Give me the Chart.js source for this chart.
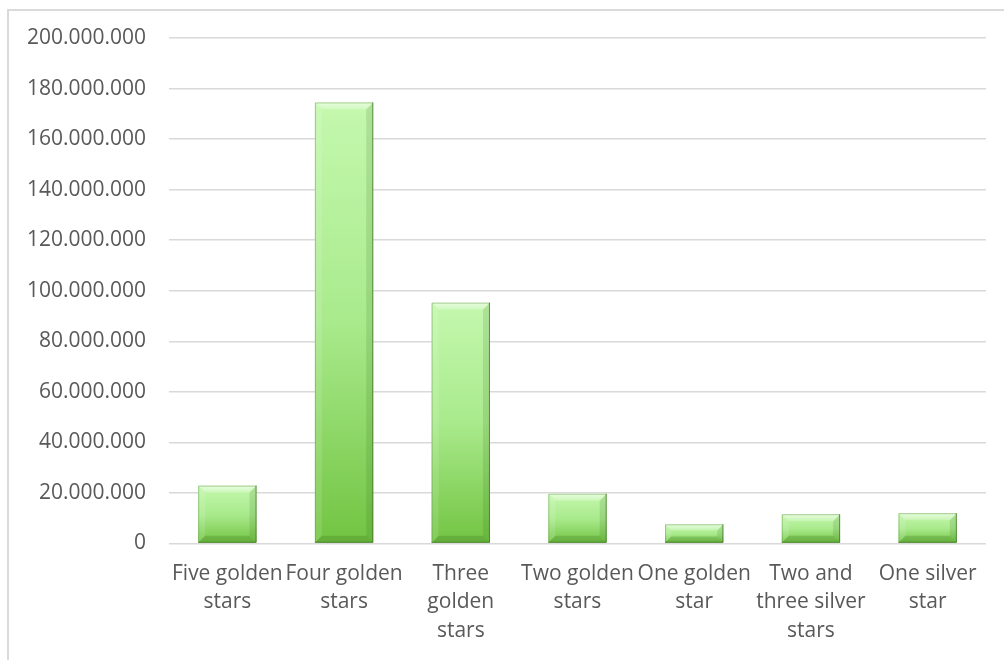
<!DOCTYPE html>
<html>
<head>
<meta charset="utf-8">
<script src="https://cdn.jsdelivr.net/npm/chart.js@4.4.1/dist/chart.umd.min.js"></script>
<style>
    html, body { margin: 0; padding: 0; background: #ffffff; overflow: hidden; }
    #wrap { position: relative; width: 1004px; height: 660px; }
    #frame {
        position: absolute; left: 7px; top: 9px; width: 1020px; height: 680px;
        border: 2px solid #dadada; box-sizing: border-box;
    }
    #chart { position: absolute; left: 0; top: 0; }
</style>
</head>
<body>
<div id="wrap">
    <div id="frame"></div>
    <canvas id="chart" width="1004" height="660"></canvas>
</div>
<script>
// 星级分类
const categories = [
    ['Five golden', 'stars'],
    ['Four golden', 'stars'],
    ['Three', 'golden', 'stars'],
    ['Two golden', 'stars'],
    ['One golden', 'star'],
    ['Two and', 'three silver', 'stars'],
    ['One silver', 'star']
];
const values = [22900000, 174500000, 95300000, 19700000, 7600000, 11600000, 12000000];
const yTicks = [0, 20000000, 40000000, 60000000, 80000000, 100000000, 120000000, 140000000, 160000000, 180000000, 200000000];

// 千位用点分隔
function formatDots(v) {
    return String(v).replace(/\B(?=(\d{3})+(?!\d))/g, '.');
}

// 每根柱子自上而下的渐变
function barGradient(ctx) {
    const chart = ctx.chart;
    if (!chart.chartArea || ctx.parsed == null) return '#9fe07c';
    const y = chart.scales.y;
    const top = y.getPixelForValue(ctx.parsed.y);
    const base = y.getPixelForValue(0);
    const g = chart.ctx.createLinearGradient(0, top, 0, base);
    g.addColorStop(0, '#c4f8ae');
    g.addColorStop(0.5, '#a9ea8c');
    g.addColorStop(1, '#72c442');
    return g;
}

// 斜面效果，按柱子元素自身的位置绘制
const bevelPlugin = {
    id: 'bevel',
    afterDatasetsDraw(chart) {
        const ctx = chart.ctx;
        const meta = chart.getDatasetMeta(0);
        meta.data.forEach(bar => {
            const p = bar.getProps(['x', 'y', 'base', 'width'], true);
            const l = p.x - p.width / 2, r = p.x + p.width / 2;
            const t = p.y, b = p.base;
            const s = Math.min(7, (b - t) / 3);
            ctx.save();
            // 上沿高光
            let g = ctx.createLinearGradient(0, t, 0, t + s);
            g.addColorStop(0, 'rgba(255,255,255,0.6)');
            g.addColorStop(1, 'rgba(255,255,255,0.2)');
            ctx.fillStyle = g;
            ctx.beginPath();
            ctx.moveTo(l, t); ctx.lineTo(r, t); ctx.lineTo(r - s, t + s); ctx.lineTo(l + s, t + s);
            ctx.closePath(); ctx.fill();
            // 左侧
            ctx.fillStyle = 'rgba(255,255,255,0.12)';
            ctx.beginPath();
            ctx.moveTo(l, t); ctx.lineTo(l + s, t + s); ctx.lineTo(l + s, b - s); ctx.lineTo(l, b);
            ctx.closePath(); ctx.fill();
            // 右侧
            ctx.fillStyle = 'rgba(40,90,20,0.14)';
            ctx.beginPath();
            ctx.moveTo(r, t); ctx.lineTo(r - s, t + s); ctx.lineTo(r - s, b - s); ctx.lineTo(r, b);
            ctx.closePath(); ctx.fill();
            // 下沿
            ctx.fillStyle = 'rgba(40,90,20,0.2)';
            ctx.beginPath();
            ctx.moveTo(l, b); ctx.lineTo(l + s, b - s); ctx.lineTo(r - s, b - s); ctx.lineTo(r, b);
            ctx.closePath(); ctx.fill();
            // 外轮廓
            ctx.strokeStyle = 'rgba(60,110,35,0.7)';
            ctx.lineWidth = 1;
            ctx.beginPath();
            ctx.moveTo(r - 0.5, t); ctx.lineTo(r - 0.5, b - 0.5); ctx.lineTo(l, b - 0.5);
            ctx.stroke();
            ctx.strokeStyle = 'rgba(90,150,60,0.45)';
            ctx.beginPath();
            ctx.moveTo(l + 0.5, b); ctx.lineTo(l + 0.5, t + 0.5); ctx.lineTo(r, t + 0.5);
            ctx.stroke();
            ctx.restore();
        });
    }
};

const chart = new Chart(document.getElementById('chart').getContext('2d'), {
    type: 'bar',
    data: {
        labels: categories,
        datasets: [{
            data: values,
            backgroundColor: barGradient,
            borderWidth: 0,
            categoryPercentage: 1.0,
            barPercentage: 0.5
        }]
    },
    options: {
        responsive: false,
        animation: false,
        layout: { padding: { left: 0, right: 18, top: 38, bottom: 0 } },
        plugins: {
            legend: { display: false },
            tooltip: { enabled: false }
        },
        scales: {
            y: {
                min: 0,
                max: 200000000,
                afterBuildTicks: scale => { scale.ticks = yTicks.map(v => ({ value: v })); },
                afterFit: scale => { scale.width = 169; },
                border: { display: false },
                grid: { color: '#d9d9d9', lineWidth: 1.5, drawTicks: false },
                ticks: {
                    padding: 23,
                    color: '#595959',
                    font: { family: 'Open Sans', size: 21 },
                    callback: v => formatDots(v)
                }
            },
            x: {
                afterFit: scale => { scale.height = 116.5; },
                border: { display: false },
                grid: { display: false, drawTicks: false },
                ticks: {
                    padding: 16,
                    maxRotation: 0,
                    autoSkip: false,
                    color: '#595959',
                    font: { family: 'Open Sans', size: 21, lineHeight: 1.36 }
                }
            }
        }
    },
    plugins: [bevelPlugin]
});
</script>
</body>
</html>
